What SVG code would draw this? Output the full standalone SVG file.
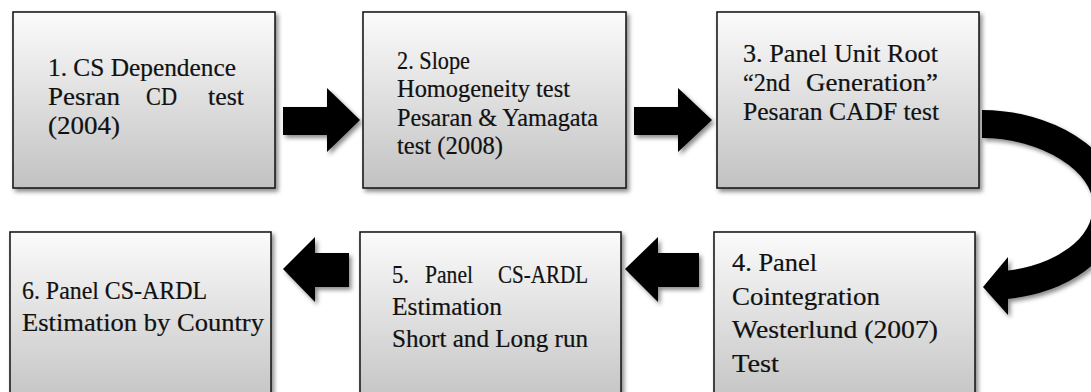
<svg xmlns="http://www.w3.org/2000/svg" width="1091" height="392" viewBox="0 0 1091 392">
<defs>
<linearGradient id="boxfill" x1="0" y1="0" x2="0" y2="1">
<stop offset="0" stop-color="#fbfbfb"/>
<stop offset="1" stop-color="#c2c2c2"/>
</linearGradient>
<filter id="shadow" x="-10%" y="-10%" width="130%" height="130%">
<feDropShadow dx="2.5" dy="3" stdDeviation="2" flood-color="#000" flood-opacity="0.45"/>
</filter>
</defs>
<style>
.box{fill:url(#boxfill);stroke:#1c1c1c;stroke-width:1.6;filter:url(#shadow)}
.t{font-family:"Liberation Serif","Times New Roman",serif;font-size:24.5px;fill:#111;stroke:#111;stroke-width:0.2}
.arrow{fill:#000;filter:url(#shadow)}
.curve{fill:none;stroke:#000;stroke-width:28}
</style>

<g id="connectors">
<polygon class="arrow" points="283,107 327,107 327,88 360,120 327,152 327,135 283,135"/>
<polygon class="arrow" points="634,107 678,107 678,88 712,120 678,152 678,135 634,135"/>
<g filter="url(#shadow)">
<path class="curve" d="M982,124 C1045,124 1107,160 1107,205 C1107,250 1060,279 1006,285"/>
<polygon fill="#000" points="983,287 1008,257 1008,315"/>
</g>
<polygon class="arrow" points="349,253 315,253 315,237 283,269 315,302 315,287 349,287"/>
<polygon class="arrow" points="699,253 658,253 658,237 625,269 658,302 658,287 699,287"/>
</g>

<g id="node1">
<rect class="box" x="13" y="12" width="262" height="176"/>
<text class="t" x="48" y="76" textLength="188" lengthAdjust="spacingAndGlyphs">1. CS Dependence</text>
<text class="t" x="48" y="105" textLength="72" lengthAdjust="spacingAndGlyphs">Pesran</text>
<text class="t" x="146" y="105" textLength="31" lengthAdjust="spacingAndGlyphs">CD</text>
<text class="t" x="208" y="105" textLength="36" lengthAdjust="spacingAndGlyphs">test</text>
<text class="t" x="48" y="134" textLength="72" lengthAdjust="spacingAndGlyphs">(2004)</text>
</g>

<g id="node2">
<rect class="box" x="363" y="12" width="263" height="176"/>
<text class="t" x="397" y="69" textLength="73" lengthAdjust="spacingAndGlyphs">2. Slope</text>
<text class="t" x="397" y="97" textLength="173" lengthAdjust="spacingAndGlyphs">Homogeneity test</text>
<text class="t" x="397" y="126" textLength="201" lengthAdjust="spacingAndGlyphs">Pesaran &amp; Yamagata</text>
<text class="t" x="397" y="154" textLength="106" lengthAdjust="spacingAndGlyphs">test (2008)</text>
</g>

<g id="node3">
<rect class="box" x="717" y="12" width="262" height="176"/>
<text class="t" x="743" y="62" textLength="195" lengthAdjust="spacingAndGlyphs">3. Panel Unit Root</text>
<text class="t" x="743" y="91" textLength="47" lengthAdjust="spacingAndGlyphs">“2nd</text>
<text class="t" x="806" y="91" textLength="132" lengthAdjust="spacingAndGlyphs">Generation”</text>
<text class="t" x="743" y="120" textLength="196" lengthAdjust="spacingAndGlyphs">Pesaran CADF test</text>
</g>

<g id="node4">
<rect class="box" x="714" y="232" width="261" height="176"/>
<text class="t" x="732" y="271" textLength="85" lengthAdjust="spacingAndGlyphs">4. Panel</text>
<text class="t" x="732" y="305" textLength="148" lengthAdjust="spacingAndGlyphs">Cointegration</text>
<text class="t" x="732" y="338" textLength="206" lengthAdjust="spacingAndGlyphs">Westerlund (2007)</text>
<text class="t" x="732" y="372" textLength="47" lengthAdjust="spacingAndGlyphs">Test</text>
</g>

<g id="node5">
<rect class="box" x="360" y="232" width="261" height="176"/>
<text class="t" x="392" y="283" textLength="17" lengthAdjust="spacingAndGlyphs">5.</text>
<text class="t" x="425" y="283" textLength="48" lengthAdjust="spacingAndGlyphs">Panel</text>
<text class="t" x="498" y="283" textLength="90" lengthAdjust="spacingAndGlyphs">CS-ARDL</text>
<text class="t" x="392" y="315" textLength="110" lengthAdjust="spacingAndGlyphs">Estimation</text>
<text class="t" x="392" y="347" textLength="196" lengthAdjust="spacingAndGlyphs">Short and Long run</text>
</g>

<g id="node6">
<rect class="box" x="10" y="232" width="261" height="176"/>
<text class="t" x="22" y="299" textLength="185" lengthAdjust="spacingAndGlyphs">6. Panel CS-ARDL</text>
<text class="t" x="22" y="331" textLength="242" lengthAdjust="spacingAndGlyphs">Estimation by Country</text>
</g>
</svg>
